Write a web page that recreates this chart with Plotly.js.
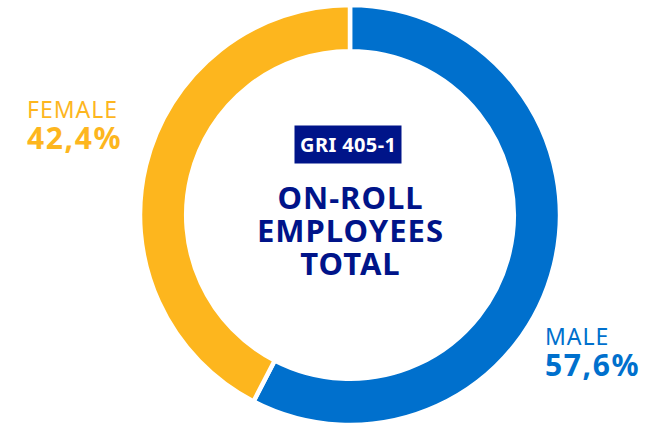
<!DOCTYPE html>
<html>
<head>
<meta charset="utf-8">
<script src="https://cdn.plot.ly/plotly-3.0.1.min.js"></script>
<style>
html,body{margin:0;padding:0;background:#fff;}
#chart{width:653px;height:428px;}
</style>
</head>
<body>
<div id="chart"></div>
<script>
const categories = ["MALE", "FEMALE"];
const shares = [57.6, 42.4];
const shareLabels = ["57,6%", "42,4%"];
const badgeText = "GRI 405-1";
const titleLines = ["ON-ROLL", "EMPLOYEES", "TOTAL"];

const W = 653, H = 428;
const BLUE = "#0070CD", ORANGE = "#FDB61E", NAVY = "#001489";
const px = x => x / W;
const py = y => 1 - y / H;

const trace = {
  type: "pie",
  labels: categories,
  values: shares,
  sort: false,
  direction: "clockwise",
  rotation: 0,
  hole: 0.78,
  textinfo: "none",
  hoverinfo: "none",
  marker: {colors: [BLUE, ORANGE], line: {color: "#ffffff", width: 4.5}},
  domain: {x: [px(140), px(560)], y: [py(425), py(5)]}
};

const font = "Noto Sans";
const span = (s, size, ls) => "<span style='font-size:" + size + "px;letter-spacing:" + ls + "px'>" + s + "</span>";
const titleText = titleLines.map(t => "<b>" + span(t, 31, 1) + "</b>").join("<br>");
const labelText = i => span(categories[i], 23, 1) + "<br><b>" + span(shareLabels[i], 30, 1.6) + "</b>";

const annotations = [
  {x: px(348), y: py(145), text: "<b>" + span(badgeText, 20, 0.4) + "</b>", bgcolor: NAVY, borderpad: 5,
   font: {family: font, size: 20, color: "#ffffff"}},
  {x: px(350.5), y: py(230), text: titleText, font: {family: font, size: 25.4, color: NAVY}},
  {x: px(25), y: py(126), xanchor: "left", text: labelText(1), font: {family: font, size: 24, color: ORANGE}},
  {x: px(543), y: py(352), xanchor: "left", text: labelText(0), font: {family: font, size: 24, color: BLUE}}
].map(a => Object.assign({xref: "paper", yref: "paper", showarrow: false, yanchor: "middle", align: "left"}, a));
annotations[0].align = "center";
annotations[1].align = "center";

const layout = {
  width: W, height: H,
  margin: {l: 0, r: 0, t: 0, b: 0},
  paper_bgcolor: "#ffffff",
  showlegend: false,
  hovermode: false,
  annotations: annotations
};

Plotly.newPlot("chart", [trace], layout, {staticPlot: true, displayModeBar: false});
</script>
</body>
</html>
